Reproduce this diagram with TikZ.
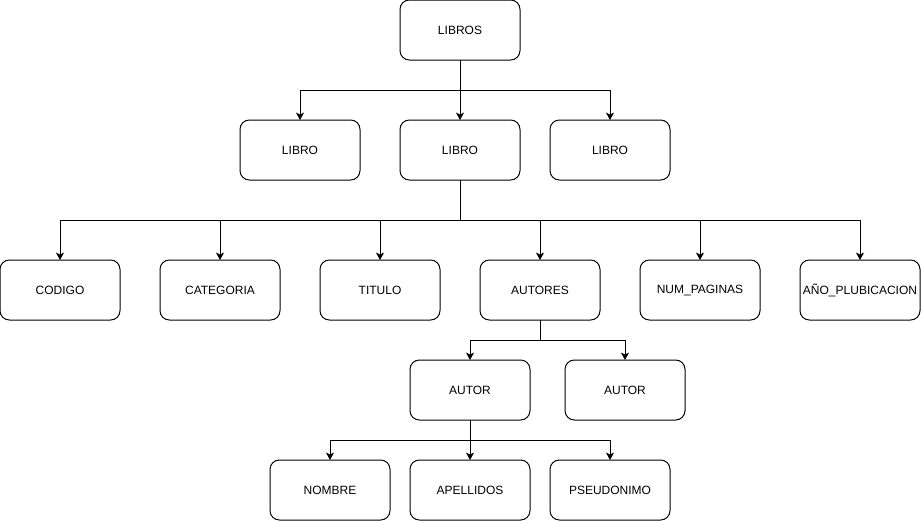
\documentclass[tikz,border=0pt]{standalone}
\usepackage{fontspec}
\setmainfont{Liberation Sans}
\usetikzlibrary{arrows.meta, positioning}
\tikzset{
    box/.style={draw, rounded corners=7pt, line width=0.75pt, minimum width=90pt, minimum height=45pt,
        inner xsep=0.5pt, outer sep=0pt, font=\fontsize{9pt}{11pt}\selectfont},
    link/.style={line width=0.75pt, -{Stealth[length=5.5pt, width=6pt, inset=1.4pt]}}
}
\begin{document}
\begin{tikzpicture}[x=0.75pt, y=-0.75pt]
    \useasboundingbox (0,0) rectangle (921,521);
    \node[box] (libros) at (460,30) {LIBROS};
    % second level
    \node[box] (l1) at (300,150) {LIBRO};
    \node[box] (l2) at (460,150) {LIBRO};
    \node[box] (l3) at (610,150) {LIBRO};
    % third level
    \node[box] (c1) at (60,290) {CODIGO};
    \node[box] (c2) at (220,290) {CATEGORIA};
    \node[box] (c3) at (380,290) {TITULO};
    \node[box] (c4) at (540,290) {AUTORES};
    \node[box] (c5) at (700,290) {NUM\_PAGINAS};
    \node[box] (c6) at (860,290) {AÑO\_PLUBICACION};
    % autores
    \node[box] (a1) at (470,390) {AUTOR};
    \node[box] (a2) at (625,390) {AUTOR};
    % autor
    \node[box] (n1) at (330,490) {NOMBRE};
    \node[box] (n2) at (470,490) {APELLIDOS};
    \node[box] (n3) at (610,490) {PSEUDONIMO};
    \draw[link] (libros.south) -- ++(0,30) -| (l1.north);
    \draw[link] (libros.south) -- (l2.north);
    \draw[link] (libros.south) -- ++(0,30) -| (l3.north);
    \foreach \c in {c1,c2,c3,c4,c5,c6}{
    \draw[link] (l2.south) -- ++(0,40) -| (\c.north);}
    \foreach \c in {a1,a2}{
    \draw[link] (c4.south) -- ++(0,20) -| (\c.north);}
    \draw[link] (a1.south) -- ++(0,20) -| (n1.north);
    \draw[link] (a1.south) -- (n2.north);
    \draw[link] (a1.south) -- ++(0,20) -| (n3.north);
\end{tikzpicture}
\end{document}
